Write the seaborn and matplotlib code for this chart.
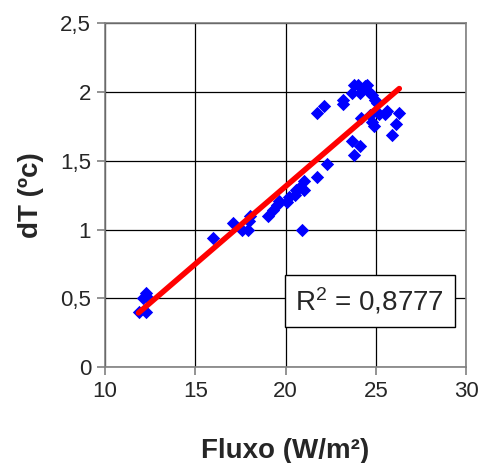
import numpy as np
import pandas as pd
import matplotlib
matplotlib.use("Agg")
import matplotlib.pyplot as plt
import seaborn as sns

# heat flux (W/m²) and temperature difference (°C)
fluxo = [11.85, 12.25, 12.1, 12.25, 12.35, 16.0, 17.1, 17.6, 17.9, 18.0,
         17.95, 19.05, 19.3, 19.5, 19.65, 20.05, 20.2, 20.5, 20.6, 20.8,
         21.0, 21.0, 20.9, 21.75, 21.75, 22.1, 22.3, 23.2, 23.2, 23.7,
         23.8, 24.0, 24.15, 24.4, 24.5, 24.6, 24.8, 24.95, 25.05, 24.2,
         24.7, 24.8, 24.9, 23.7, 24.15, 23.8, 25.2, 25.5, 25.6, 25.9,
         26.1, 26.3]
dT = [0.40, 0.40, 0.50, 0.54, 0.50, 0.94, 1.05, 1.00, 1.00, 1.10,
      1.06, 1.10, 1.14, 1.18, 1.21, 1.20, 1.24, 1.25, 1.29, 1.31,
      1.35, 1.29, 1.00, 1.38, 1.85, 1.90, 1.48, 1.91, 1.94, 1.99,
      2.05, 2.05, 1.99, 2.04, 2.05, 2.00, 1.98, 1.94, 1.92, 1.81,
      1.83, 1.78, 1.75, 1.64, 1.61, 1.54, 1.84, 1.84, 1.86, 1.69,
      1.77, 1.85]

x_ticks = [10, 15, 20, 25, 30]
y_ticks = [0, 0.5, 1, 1.5, 2, 2.5]
y_labels = ["0", "0,5", "1", "1,5", "2", "2,5"]
r2_label = "R$^2$ = 0,8777"

df = pd.DataFrame({"Fluxo": fluxo, "dT": dT})

sns.set_style("white")
plt.rcParams["font.family"] = ["Liberation Sans", "DejaVu Sans"]
plt.rcParams["mathtext.fontset"] = "custom"
plt.rcParams["mathtext.rm"] = "Liberation Sans"
plt.rcParams["mathtext.default"] = "regular"

fig = plt.figure(figsize=(4.8, 4.63), dpi=100)
ax = fig.add_axes([0.219, 0.207, 0.752, 0.743])

sns.regplot(data=df, x="Fluxo", y="dT", ax=ax, ci=None, marker="D",
            scatter_kws={"color": "#0000FF", "s": 46, "linewidths": 0,
                         "alpha": 1, "zorder": 3},
            line_kws={"color": "#FF0000", "lw": 4, "zorder": 4,
                      "solid_capstyle": "round"})

ax.set_xlim(10, 30)
ax.set_ylim(0, 2.5)
ax.set_xticks(x_ticks)
ax.set_yticks(y_ticks)
ax.set_yticklabels(y_labels)
ax.grid(True, color="black", lw=0.9)
ax.set_axisbelow(True)
for s in ax.spines.values():
    s.set_color("#808080")
    s.set_linewidth(1.2)
ax.tick_params(axis="both", labelsize=16, direction="out", length=6,
               color="#808080", width=1.2, left=True, bottom=True, pad=4)

ax.set_xlabel("Fluxo (W/m²)", fontsize=20, fontweight="bold", labelpad=26)
ax.set_ylabel("dT (ºc)", fontsize=20, fontweight="bold", labelpad=12)

ax.text(24.65, 0.48, r2_label, fontsize=20, ha="center", va="center", zorder=5,
        bbox=dict(boxstyle="square,pad=0.38", fc="white", ec="black", lw=1))

fig.savefig("out.png", dpi=100)
